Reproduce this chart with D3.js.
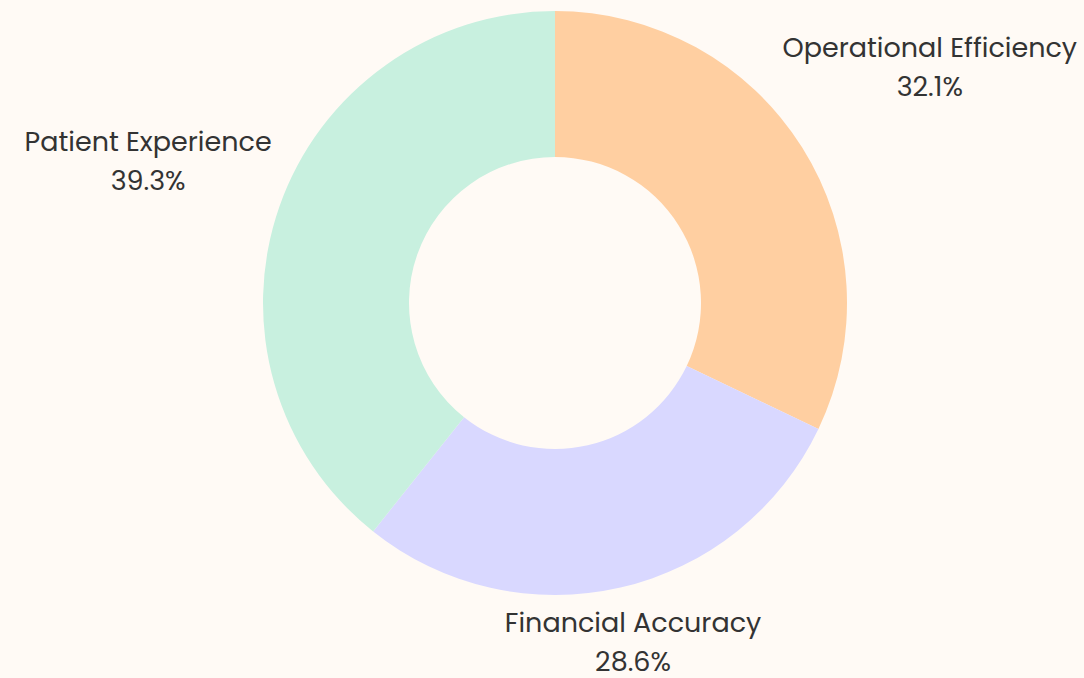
<!DOCTYPE html>
<html>
<head>
<meta charset="utf-8">
<script src="https://cdn.jsdelivr.net/npm/d3@7"></script>
<style>
  html, body { margin: 0; padding: 0; background: #fffaf5; }
  svg { display: block; }
  .label text { font-family: Poppins, Inter, "Open Sans", sans-serif; fill: #333333; }
</style>
</head>
<body>
<div id="chart"></div>
<script>
// data
var categories = ["Operational Efficiency", "Financial Accuracy", "Patient Experience"];
var shares = [32.1, 28.6, 39.3];
var colors = ["#ffcfa1", "#d9d8ff", "#c8f0df"];

var width = 1084,
  height = 678;

var cx = 555,
  cy = 303,
  outerR = 292,
  innerR = 146,
  labelPad = 9;

var svg = d3.select("#chart")
  .append("svg")
  .attr("width", width)
  .attr("height", height);

svg.append("rect")
  .attr("width", width)
  .attr("height", height)
  .attr("fill", "#fffaf5");

var g = svg.append("g")
  .attr("transform", `translate(${cx},${cy})`);

var pie = d3.pie()
  .sort(null)
  .value(d => d);

var arc = d3.arc()
  .innerRadius(innerR)
  .outerRadius(outerR);

var arcs = pie(shares);

g.selectAll(".slice")
  .data(arcs)
  .enter()
  .append("path")
  .attr("class", "slice")
  .attr("d", arc)
  .style("fill", (d, i) => colors[i]);

// labels outside, pushed out along the mid angle until the box clears the ring
var labels = g.selectAll(".label")
  .data(arcs)
  .enter()
  .append("g")
  .attr("class", "label");

labels.append("text")
  .attr("text-anchor", "middle")
  .attr("y", 0)
  .style("font-size", "27px")
  .text((d, i) => categories[i]);

labels.append("text")
  .attr("text-anchor", "middle")
  .attr("y", 39)
  .style("font-size", "27px")
  .text(d => d3.format(".1f")(d.value) + "%");

labels.each(function(d) {
  var box = this.getBBox();
  var mid = (d.startAngle + d.endAngle) / 2;
  var dx = Math.sin(mid),
    dy = -Math.cos(mid);
  var r = outerR;
  for (var k = 0; k < 1000; k++) {
    var px = r * dx,
      py = r * dy;
    var x0 = px - box.width / 2,
      x1 = px + box.width / 2;
    var y0 = py - box.height / 2,
      y1 = py + box.height / 2;
    var nx = Math.max(x0, Math.min(0, x1));
    var ny = Math.max(y0, Math.min(0, y1));
    if (Math.sqrt(nx * nx + ny * ny) >= outerR + labelPad) break;
    r += 1;
  }
  var tx = r * dx - (box.x + box.width / 2);
  var ty = r * dy - (box.y + box.height / 2);
  d3.select(this).attr("transform", `translate(${tx},${ty})`);
});
</script>
</body>
</html>
